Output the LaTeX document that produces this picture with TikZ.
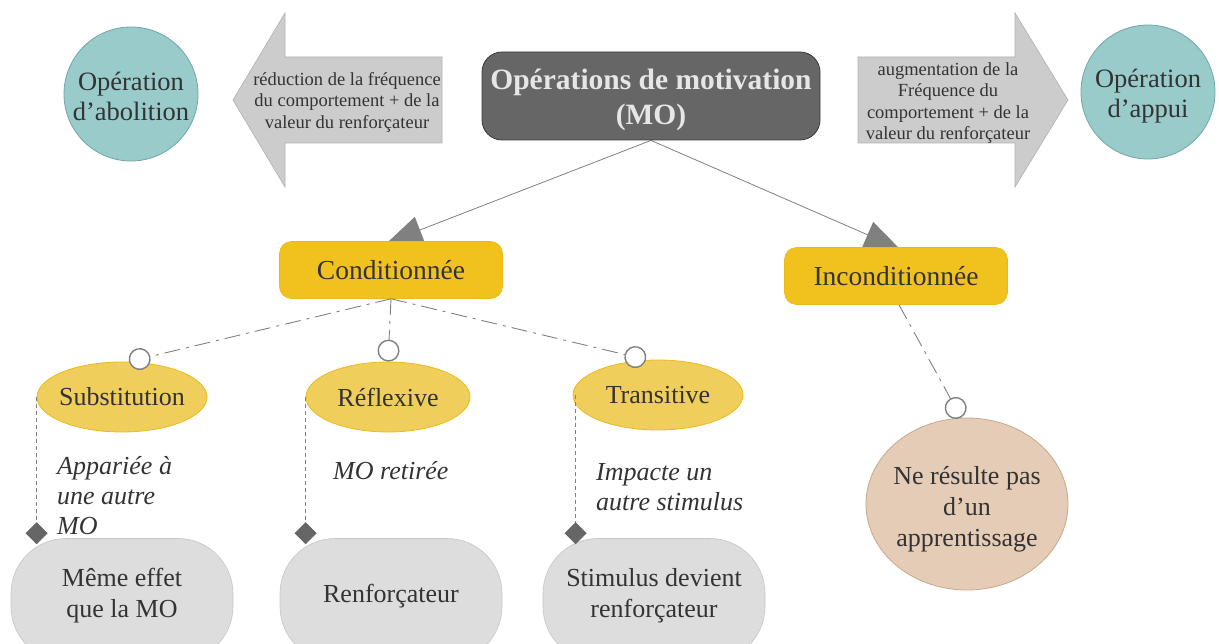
\documentclass[tikz,border=0pt]{standalone}
\usepackage{fontspec}
\setmainfont{Liberation Serif}
\usetikzlibrary{arrows.meta,shapes.geometric,backgrounds,calc}
\definecolor{txt}{HTML}{333333}
\definecolor{cTeal}{HTML}{9ACBCB}
\definecolor{cTealB}{HTML}{6FA6A6}
\definecolor{cArrow}{HTML}{CCCCCC}
\definecolor{cArrowB}{HTML}{B0B0B0}
\definecolor{cMO}{HTML}{666666}
\definecolor{cMOB}{HTML}{3A3A3A}
\definecolor{cMOtxt}{HTML}{E6E6E6}
\definecolor{cGold}{HTML}{F1C11E}
\definecolor{cGoldB}{HTML}{EBBA1A}
\definecolor{cGoldL}{HTML}{F0CE5C}
\definecolor{cGrey}{HTML}{DDDDDD}
\definecolor{cGreyB}{HTML}{C6C6C6}
\definecolor{cBeige}{HTML}{E5CCB6}
\definecolor{cBeigeB}{HTML}{C8A888}
\definecolor{cLine}{HTML}{808080}
\definecolor{cDark}{HTML}{666666}
\begin{document}
\begin{tikzpicture}[x=1pt,y=-1pt,
  every node/.style={text=txt},
  maintext/.style={font=\fontsize{26}{31}\selectfont, align=center, text=txt, inner sep=0pt},
  bubble/.style={circle, fill=cTeal, draw=cTealB, line width=0.8pt, minimum size=134pt, inner sep=0pt},
  bubtext/.style={font=\fontsize{26.5}{30}\selectfont, align=center, text=txt, inner sep=0pt},
  arrowtext/.style={align=center, font=\fontsize{18.5}{21.5}\selectfont, inner sep=0pt},
  bigarrow/.style={fill=cArrow, draw=cArrowB, line width=0.6pt},
  mobox/.style={rectangle, rounded corners=20pt, fill=cMO, draw=cMOB, line width=0.8pt, minimum width=338pt, minimum height=88pt},
  motext/.style={align=center, text=cMOtxt, inner sep=0pt, font=\fontsize{29.5}{35}\bfseries\selectfont},
  catbox/.style={rectangle, rounded corners=12pt, fill=cGold, draw=cGoldB, line width=0.6pt, minimum width=223pt, minimum height=57pt, font=\fontsize{27.5}{32}\selectfont},
  kindell/.style={ellipse, fill=cGoldL, draw=cGoldB, line width=0.8pt, minimum width=170pt, minimum height=70pt, inner sep=0pt},
  resbox/.style={rectangle, rounded corners=55pt, fill=cGrey, draw=cGreyB, line width=0.6pt, minimum width=222pt, minimum height=123pt, inner sep=0pt},
  note/.style={font=\fontsize{26}{30}\selectfont\itshape, align=left, inner sep=0pt, anchor=west},
  moarrow/.style={draw=cLine, line width=0.8pt, -{Triangle[length=35pt,width=28pt,color=cLine]}, shorten >=-4pt},
  dashdotline/.style={draw=cLine, line width=0.9pt, dash pattern=on 16pt off 6pt on 3pt off 6pt, -{Circle[length=22pt,width=22pt,fill=white,color=cLine,line width=1.4pt]}},
  dotline/.style={draw=cLine, line width=0.9pt, dash pattern=on 4pt off 3pt, -{Diamond[length=22pt,width=22pt,color=cDark]}}
]
\useasboundingbox (0,0) rectangle (1219,644);

% side arrows
\draw[bigarrow] (442,57) -- (285,57) -- (285,13) -- (233,100) -- (285,187) -- (285,143) -- (442,143) -- cycle;
\draw[bigarrow] (858,57) -- (1015,57) -- (1015,13) -- (1068,100) -- (1015,187) -- (1015,143) -- (858,143) -- cycle;
\node[arrowtext] (redtxt) at (347,102) {réduction de la fréquence\\du comportement + de la\\valeur du renforçateur};
\node[arrowtext] (augtxt) at (948,103) {augmentation de la\\Fréquence du\\comportement + de la\\valeur du renforçateur};

% top row
\node[bubble, label={[bubtext,yshift=-2pt]center:Opération\\d’abolition}] (abol) at (131,94) {};
\node[bubble, label={[bubtext,yshift=-4pt]center:Opération\\d’appui}] (appui) at (1148,92) {};
\node[mobox, label={[motext,yshift=-4pt]center:Opérations de motivation\\(MO)}] (mo) at (651,96) {};

% categories
\node[catbox] (cond) at (391,270) {Conditionnée};
\node[catbox] (incond) at (896,276) {Inconditionnée};

% kinds
\node[kindell, label={[maintext]center:Substitution}] (subst) at (122,397) {};
\node[kindell, minimum width=164pt, label={[maintext]center:Réflexive}] (refl) at (388,397) {};
\node[kindell, label={[maintext]center:Transitive}] (trans) at (658,395) {};

% results
\node[resbox, label={[maintext,yshift=4pt]center:Même effet\\que la MO}] (same) at (122,600) {};
\node[resbox, label={[maintext,yshift=4pt]center:Renforçateur}] (renf) at (391,600) {};
\node[resbox, label={[maintext,yshift=4pt]center:Stimulus devient\\renforçateur}] (stim) at (654,600) {};

\node[ellipse, fill=cBeige, draw=cBeigeB, line width=0.8pt, minimum width=202pt, minimum height=172pt, inner sep=0pt,
  label={[maintext,yshift=-5pt]center:Ne résulte pas\\d’un\\apprentissage}] (nerp) at (967,504) {};

% notes
\node[note] (n1) at (57,496) {Appariée à\\une autre\\MO};
\node[note] (n2) at (333,471) {MO retirée};
\node[note] (n3) at (596,487) {Impacte un\\autre stimulus};

% connectors
\begin{pgfonlayer}{background}
\draw[moarrow] (mo.south) -- (cond.north);
\draw[moarrow] (mo.south) -- (incond.north);
\end{pgfonlayer}
\draw[dashdotline] (cond.south) -- ([xshift=7pt]subst.north);
\draw[dashdotline] (cond.south) -- (refl.north);
\draw[dashdotline] (cond.south) -- ([xshift=-12pt]trans.north);
\draw[dashdotline] ([xshift=3pt]incond.south) -- ([xshift=-6pt]nerp.north);
\draw[dotline] (subst.west) -- ([yshift=-6pt]subst.west |- same.north);
\draw[dotline] (refl.west) -- ([yshift=-6pt]refl.west |- renf.north);
\draw[dotline] ([xshift=3pt]trans.west) -- ([xshift=3pt,yshift=-6pt]trans.west |- stim.north);
\end{tikzpicture}
\end{document}
